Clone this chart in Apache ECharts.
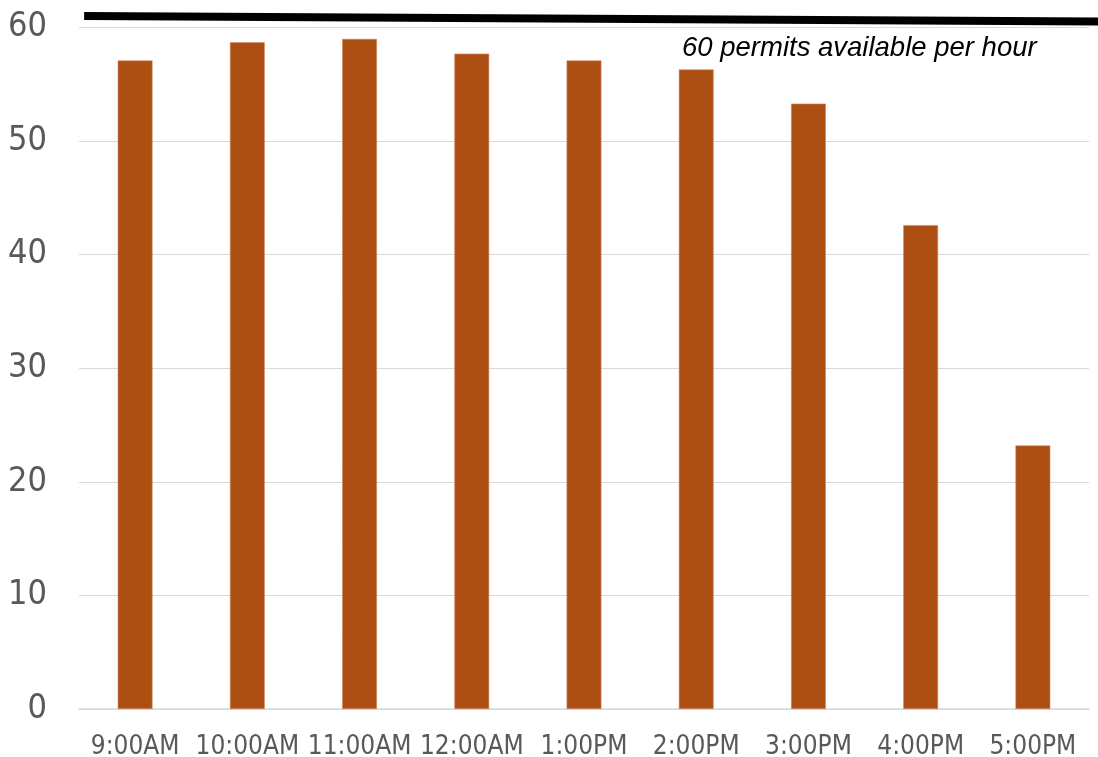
<!DOCTYPE html>
<html>
<head>
<meta charset="utf-8">
<style>
  html, body { margin: 0; padding: 0; background: #ffffff; }
  #chart { width: 1098px; height: 757px; }
</style>
<script src="https://cdn.jsdelivr.net/npm/echarts@6/dist/echarts.min.js"></script>
</head>
<body>
<div id="chart"></div>
<script>
// Permits used per hour
const hours = ['9:00AM', '10:00AM', '11:00AM', '12:00AM', '1:00PM', '2:00PM', '3:00PM', '4:00PM', '5:00PM'];
const permitsUsed = [57.1, 58.7, 59.0, 57.7, 57.1, 56.3, 53.3, 42.6, 23.2];
const capacity = 60;
const capacityNote = '60 permits available per hour';

const labelFont = '"DejaVu Sans Condensed", "DejaVu Sans", sans-serif';
const chart = echarts.init(document.getElementById('chart'), null, { renderer: 'canvas' });

chart.setOption({
  animation: false,
  backgroundColor: '#ffffff',
  grid: { left: 79, right: 9, top: 27.5, bottom: 48, containLabel: false, outerBoundsMode: 'none' },
  xAxis: {
    type: 'category',
    data: hours,
    axisTick: { show: false },
    axisLine: { show: true, lineStyle: { color: '#d9d9d9', width: 1.5 } },
    axisLabel: { color: '#595959', fontFamily: labelFont, fontSize: 26, margin: 25, interval: 0 }
  },
  yAxis: {
    type: 'value',
    min: 0,
    max: capacity,
    interval: 10,
    axisLine: { show: false },
    axisTick: { show: false },
    splitLine: { lineStyle: { color: '#d9d9d9', width: 1 } },
    axisLabel: { color: '#595959', fontFamily: labelFont, fontSize: 34, margin: 32 }
  },
  series: [{
    type: 'bar',
    data: permitsUsed,
    barWidth: '31%',
    itemStyle: { color: '#ad4e12', borderColor: '#c98a66', borderWidth: 0.6 }
  }]
});

// Capacity annotation: a heavy rule just above the 60 gridline, plus its caption
function drawCapacity() {
  const yTop = chart.convertToPixel({ yAxisIndex: 0 }, capacity);
  const xFirst = chart.convertToPixel({ xAxisIndex: 0 }, 0);
  chart.setOption({
    graphic: [
      {
        type: 'line',
        shape: { x1: xFirst - 51, y1: yTop - 11.5, x2: 1098, y2: yTop - 6 },
        style: { stroke: '#000000', lineWidth: 8 },
        z: 100
      },
      {
        type: 'text',
        left: 682,
        top: yTop + 7.5,
        style: {
          text: capacityNote,
          font: 'italic 27.5px "Liberation Sans", Arial, sans-serif',
          fill: '#000000'
        },
        z: 100
      }
    ]
  });
}
drawCapacity();
</script>
</body>
</html>
